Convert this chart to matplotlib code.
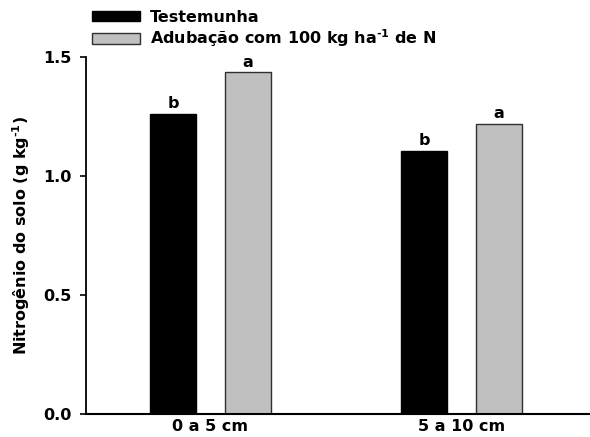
import matplotlib
matplotlib.use("Agg")
import matplotlib.pyplot as plt
from matplotlib.patches import Patch
import numpy as np

plt.rcParams['font.family'] = ['DejaVu Sans']
plt.rcParams['font.weight'] = 'bold'
plt.rcParams['mathtext.fontset'] = 'dejavusans'
plt.rcParams['mathtext.default'] = 'bf'

# Soil depth layers and treatments
depths = ["0 a 5 cm", "5 a 10 cm"]
series_names = ["Testemunha", r"Adubação com 100 kg ha$^{\text{-1}}$ de N"]
testemunha = [1.26, 1.105]
adubacao = [1.435, 1.218]
letters_testemunha = ["b", "b"]
letters_adubacao = ["a", "a"]

FS = 11.5

fig = plt.figure(figsize=(5.9, 4.37), dpi=100)
ax = fig.add_axes([0.1458, 0.0526, 0.8542, 0.817])

x = np.arange(len(depths))
w = 0.183
off = 0.149
b1 = ax.bar(x - off, testemunha, w, color="black", edgecolor="black", linewidth=1)
b2 = ax.bar(x + off, adubacao, w, color="#c0c0c0", edgecolor="#303030", linewidth=1)

for bars, letters in ((b1, letters_testemunha), (b2, letters_adubacao)):
    for rect, lab in zip(bars, letters):
        ax.annotate(lab, (rect.get_x() + rect.get_width() / 2, rect.get_height()),
                    xytext=(0, 2), textcoords="offset points", ha="center", va="bottom",
                    fontsize=FS, fontweight="bold")

ax.set_xlim(-0.496, 1.513)
ax.set_ylim(0, 1.5)
ax.set_yticks([0.0, 0.5, 1.0, 1.5])
ax.set_yticklabels(["0.0", "0.5", "1.0", "1.5"])
ax.set_xticks(x)
ax.set_xticklabels(depths)
ax.tick_params(axis="x", length=0, pad=3.5, labelsize=FS)
ax.tick_params(axis="y", direction="out", length=4.5, width=1.2, pad=6, labelsize=FS)
for lbl in ax.get_xticklabels() + ax.get_yticklabels():
    lbl.set_fontweight("bold")

ax.spines["top"].set_visible(False)
ax.spines["right"].set_visible(False)
ax.spines["left"].set_linewidth(1.3)
ax.spines["bottom"].set_linewidth(1.5)

ax.set_ylabel(r"Nitrogênio do solo (g kg$^{\text{-1}}$)", fontsize=FS, fontweight="bold")
ax.yaxis.set_label_coords(-0.107, 0.5)

handles = [Patch(facecolor="black", edgecolor="black"),
           Patch(facecolor="#c0c0c0", edgecolor="#303030")]
fig.legend(handles, series_names, loc="upper left", bbox_to_anchor=(0.156, 1 - 10 / 437),
           frameon=False, handlelength=3.0, handleheight=0.6,
           handletextpad=0.62, labelspacing=0.15, borderaxespad=0, borderpad=0,
           prop={"weight": "bold", "size": FS})

fig.savefig("out.png", dpi=100)
